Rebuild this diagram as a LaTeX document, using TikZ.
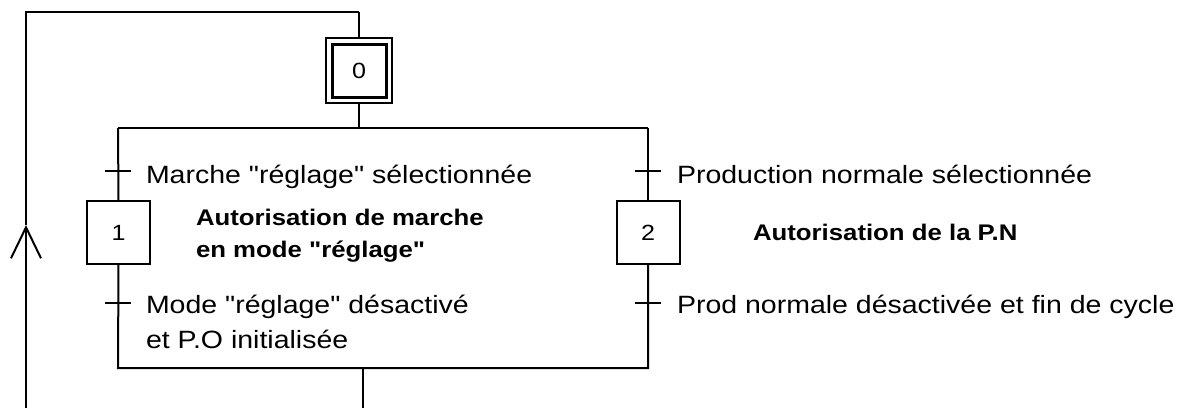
\documentclass[tikz,border=0pt]{standalone}
\usepackage{fontspec}
\setmainfont[FakeStretch=1.14, Ligatures=TeXOff]{Liberation Sans}
\usetikzlibrary{arrows.meta, positioning, calc}

\tikzset{
  etape/.style={draw, line width=1pt, minimum width=31.5pt, minimum height=31.5pt,
    inner sep=0pt, font=\fontsize{11}{13}\selectfont},
  recept/.style={line width=1pt},
  txt/.style={anchor=base west, inner sep=0pt, align=left,
    font=\fontsize{12.5}{17.5}\selectfont},
  action/.style={anchor=base west, inner sep=0pt, align=left,
    font=\bfseries\fontsize{11.3}{16}\selectfont},
}

\begin{document}
\begin{tikzpicture}[x=0.5pt, y=-0.5pt, line width=1pt]
    \useasboundingbox (0,0) rectangle (1180,408);
    % etapes
    \node[etape, minimum width=33pt, minimum height=32.5pt] (e0) at (359,70.5) {};
    \node[etape, line width=1.5pt, minimum width=27pt, minimum height=26.5pt] (e0i) at (e0) {0};
    \node[etape] (e1) at (118.5,232.5) {1};
    \node[etape] (e2) at (648,232.5) {2};
    % divergence / convergence
    \coordinate (g0) at (118,128);
    \coordinate (d0) at (648,128);
    \coordinate (g3) at (118,368);
    \coordinate (d3) at (648,368);
    \coordinate (m) at (363,368);
    \coordinate (sortie) at (363,408);
    % receptivites
    \coordinate (t1) at (118,171);
    \coordinate (t2) at (648,171);
    \coordinate (t3) at (118,303);
    \coordinate (t4) at (648,303);
    % retour
    \coordinate (bas) at (26,408);
    \coordinate (fl) at (26,225);
    \coordinate (hg) at (26,12);
    \coordinate (hd) at (359,12);

    \draw (hd) -- (e0.north);
    \draw (e0.south) -- (e0 |- g0);
    \draw (g0) -- (d0);
    \draw (g0) -- (e1.north);
    \draw (d0) -- (e2.north);
    \draw (e1.south) -- (g3) -- (d3) -- (e2.south);
    \draw (m) -- (sortie);
    \foreach \t in {t1,t2,t3,t4}
      \draw[recept] ([xshift=-6.5pt]\t) -- ([xshift=6.5pt]\t);
    \draw[-{Straight Barb[length=15.5pt,width=15pt]}] (bas) -- (fl);
    \draw (fl) -- (hg) -- (hd);

    \node[txt] (r1) at (145,183) {Marche "réglage" sélectionnée};
    \node[txt] (r2) at (676,183) {Production normale sélectionnée};
    \node[txt] (r3) at (145,348) {Mode "réglage" désactivé\\et P.O initialisée};
    \node[txt] (r4) at (676,313) {Prod normale désactivée et fin de cycle};
    \node[action] (a1) at (195,257) {Autorisation de marche\\en mode "réglage"};
    \node[action] (a2) at (752,240) {Autorisation de la P.N};
  \end{tikzpicture}
\end{document}
